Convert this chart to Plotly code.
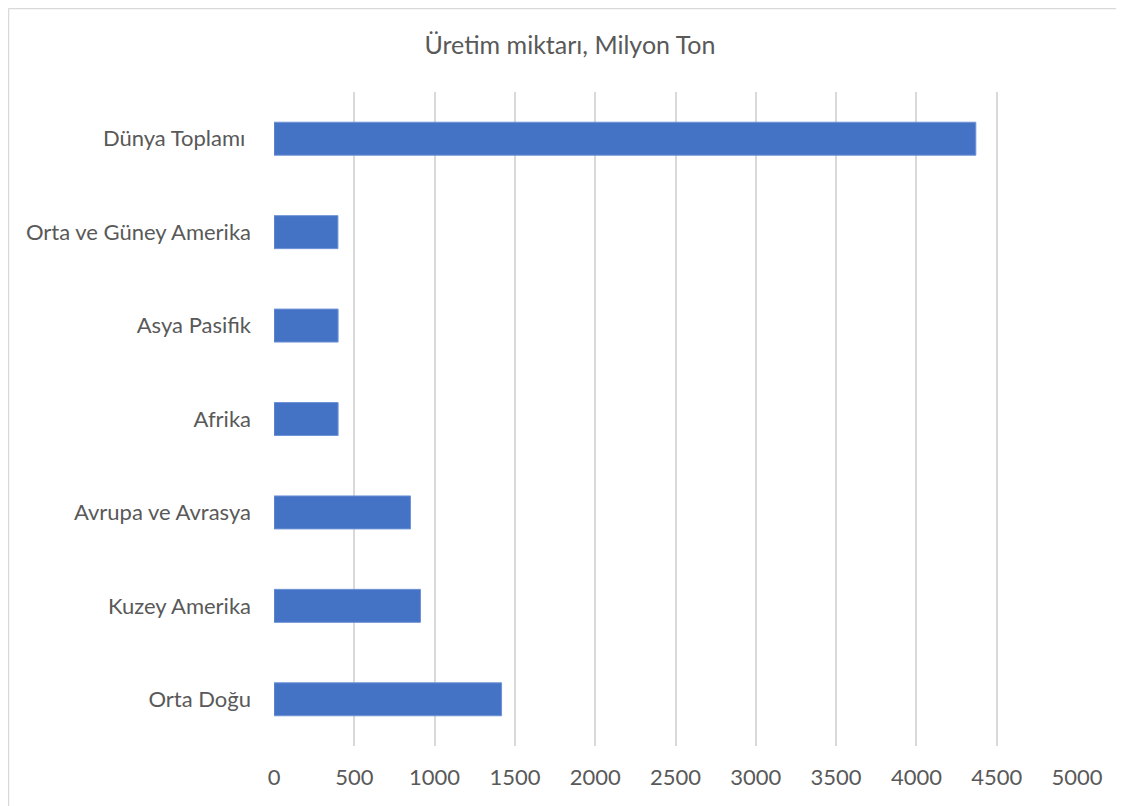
import plotly.graph_objects as go

categories = ["Dünya Toplamı ", "Orta ve Güney Amerika", "Asya Pasifik", "Afrika",
              "Avrupa ve Avrasya", "Kuzey Amerika", "Orta Doğu"]
values = [4370, 398, 399, 399, 850, 912, 1417]
x_ticks = [0, 500, 1000, 1500, 2000, 2500, 3000, 3500, 4000, 4500, 5000]

fig = go.Figure(go.Bar(
    y=categories, x=values, orientation="h",
    marker=dict(color="#4472C4", line=dict(color="#6E93D6", width=1)),
))

font_family = "Lato, Open Sans, sans-serif"
fig.update_layout(
    width=1124, height=806,
    margin=dict(l=266, r=55, t=84, b=68),
    paper_bgcolor="white", plot_bgcolor="white",
    bargap=0.647,
    showlegend=False,
    title=dict(text="Üretim miktarı, Milyon Ton", x=562 / 1124, xanchor="center",
               y=1 - 37 / 806, yanchor="middle",
               font=dict(family=font_family, size=25, color="#595959")),
    font=dict(family=font_family, size=22, color="#595959"),
    xaxis=dict(range=[0, 5000], tickvals=x_ticks, showgrid=True, gridcolor="#D9D9D9",
               gridwidth=1.5, zeroline=False, showline=False,
               ticks="", ticklabelstandoff=16,
               tickfont=dict(family=font_family, size=22, color="#595959")),
    yaxis=dict(categoryorder="array", categoryarray=categories, autorange="reversed",
               showgrid=False, zeroline=False, showline=False, ticks="",
               ticklabelstandoff=22,
               tickfont=dict(family=font_family, size=22, color="#595959")),
    shapes=[
        dict(type="line", xref="paper", yref="paper",
             x0=(0.5 - 266) / 803, x1=(1130 - 266) / 803,
             y0=(738 - 0.5) / 654, y1=(738 - 0.5) / 654,
             line=dict(color="#D9D9D9", width=1.5)),
        dict(type="line", xref="paper", yref="paper",
             x0=(0.5 - 266) / 803, x1=(0.5 - 266) / 803,
             y0=(738 - 0.5) / 654, y1=(738 - 815) / 654,
             line=dict(color="#D9D9D9", width=1.5)),
    ],
)

fig.write_html("out.html")
